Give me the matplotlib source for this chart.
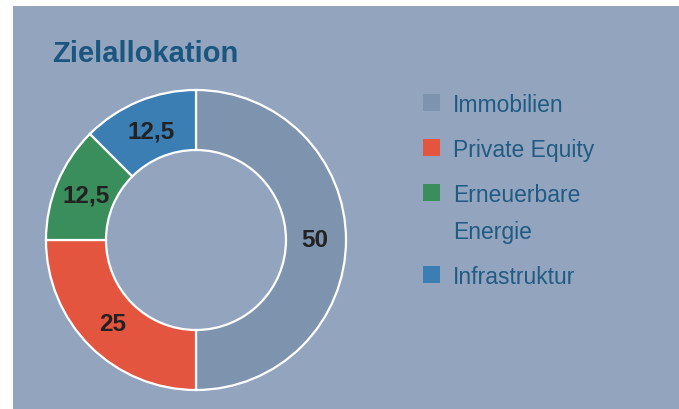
import matplotlib.pyplot as plt
from matplotlib.patches import Rectangle

# data
categories = ["Immobilien", "Private Equity", "Erneuerbare\nEnergie", "Infrastruktur"]
values = [50, 25, 12.5, 12.5]
colors = ["#7E93AE", "#E4553F", "#3A8E5C", "#3A7EB4"]

title = "Zielallokation"
bg = "#93A5BE"
title_color = "#1B5680"
text_color = "#215A82"

plt.rcParams["font.family"] = ["Liberation Sans", "DejaVu Sans"]

W, H = 679, 410
fig = plt.figure(figsize=(W / 100, H / 100), dpi=100)
fig.patch.set_facecolor("white")

ax = fig.add_axes([0, 0, 1, 1])
ax.patch.set_alpha(0)

# panel background
ax.add_patch(Rectangle((13, 0), W - 13, H - 7, facecolor=bg, edgecolor="none", zorder=0))

wedges, texts, autotexts = ax.pie(
    values,
    colors=colors,
    center=(196, 169),
    radius=150,
    startangle=90,
    counterclock=False,
    autopct=lambda p: ("%g" % p).replace(".", ","),
    pctdistance=0.79,
    wedgeprops=dict(width=60, edgecolor="white", linewidth=1.6, zorder=2),
    textprops=dict(fontsize=17.5, fontweight="bold", color="#222222", zorder=3),
    frame=False,
)

ax.set_xlim(0, W)
ax.set_ylim(0, H)
ax.set_aspect("equal")
ax.axis("off")

ax.text(52, H - 62, title, fontsize=21, fontweight="bold", color=title_color,
        va="baseline", ha="left")

# legend, drawn by hand so the square sits on the first line
y = H - 112
for cat, c in zip(categories, colors):
    ax.add_patch(Rectangle((423, y), 17, 17, facecolor=c, edgecolor="none", zorder=3))
    lines = cat.split("\n")
    for i, line in enumerate(lines):
        ax.text(453, y - i * 37, line, fontsize=16.5, color=text_color,
                va="baseline", ha="left")
    y -= 45 + 37 * (len(lines) - 1)

fig.savefig("out.png", dpi=100, facecolor=fig.get_facecolor())
